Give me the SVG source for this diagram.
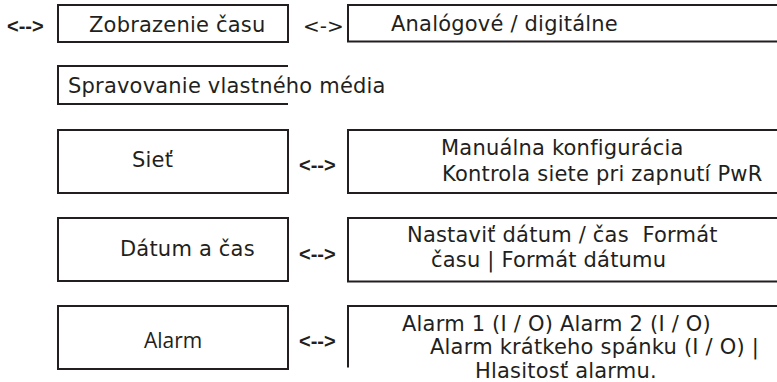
<svg xmlns="http://www.w3.org/2000/svg" width="777" height="382" viewBox="0 0 777 382">
<style>
  .box { fill: none; stroke: #231f20; stroke-width: 2; }
  .t { font-family: "DejaVu Sans", Verdana, sans-serif; font-size: 21px; fill: #231f20; white-space: pre; letter-spacing: 0.2px; }
  .alt { font-family: "Open Sans", "Noto Sans", sans-serif; font-size: 21px; fill: #231f20; }
  .conn { font-family: "Liberation Sans", Arial, sans-serif; font-size: 20px; font-weight: bold; fill: #231f20; }
  .conn2 { font-family: "DejaVu Sans", Verdana, sans-serif; font-size: 20px; fill: #231f20; }
</style>
<rect width="777" height="382" fill="#ffffff"/>

<g id="connectors">
  <text class="conn" x="7" y="33">&lt;--&gt;</text>
  <text class="conn2" x="303" y="33">&lt;-&gt;</text>
  <text class="conn" x="299" y="172">&lt;--&gt;</text>
  <text class="conn" x="299" y="261">&lt;--&gt;</text>
  <text class="conn" x="299" y="348">&lt;--&gt;</text>
</g>

<g id="node-zobrazenie">
  <rect class="box" x="58" y="5" width="230" height="37"/>
  <text class="t" x="89" y="32">Zobrazenie času</text>
</g>

<g id="node-analogove">
  <path class="box" d="M780,5 H348 V41.5 H780"/>
  <text class="t" x="391" y="31">Analógové / digitálne</text>
</g>

<g id="node-spravovanie">
  <path class="box" d="M288,66 H58 V104 H288"/>
  <text class="t" x="68" y="93">Spravovanie vlastného média</text>
</g>

<g id="node-siet">
  <rect class="box" x="58" y="130" width="230" height="63"/>
  <text class="t" x="132" y="167">Sieť</text>
</g>

<g id="node-siet-detail">
  <path class="box" d="M780,130 H348 V193 H780"/>
  <text class="t" x="441" y="155">Manuálna konfigurácia</text>
  <text class="t" x="442" y="181">Kontrola siete pri zapnutí PwR</text>
</g>

<g id="node-datum">
  <rect class="box" x="58" y="218" width="230" height="63"/>
  <text class="t" x="120" y="256">Dátum a čas</text>
</g>

<g id="node-datum-detail">
  <path class="box" d="M780,218 H348 V281.5 H780"/>
  <text class="t" x="407" y="242">Nastaviť dátum / čas  Formát</text>
  <text class="t" x="431" y="267">času | Formát dátumu</text>
</g>

<g id="node-alarm">
  <rect class="box" x="58" y="306" width="230" height="63"/>
  <text class="alt" x="144" y="348">Alarm</text>
</g>

<g id="node-alarm-detail">
  <path class="box" d="M780,306 H348 V367.5"/>
  <text class="t" x="402" y="331">Alarm 1 (I / O) Alarm 2 (I / O)</text>
  <text class="t" x="430" y="354">Alarm krátkeho spánku (I / O) |</text>
  <text class="t" x="475" y="378">Hlasitosť alarmu.</text>
</g>
</svg>
